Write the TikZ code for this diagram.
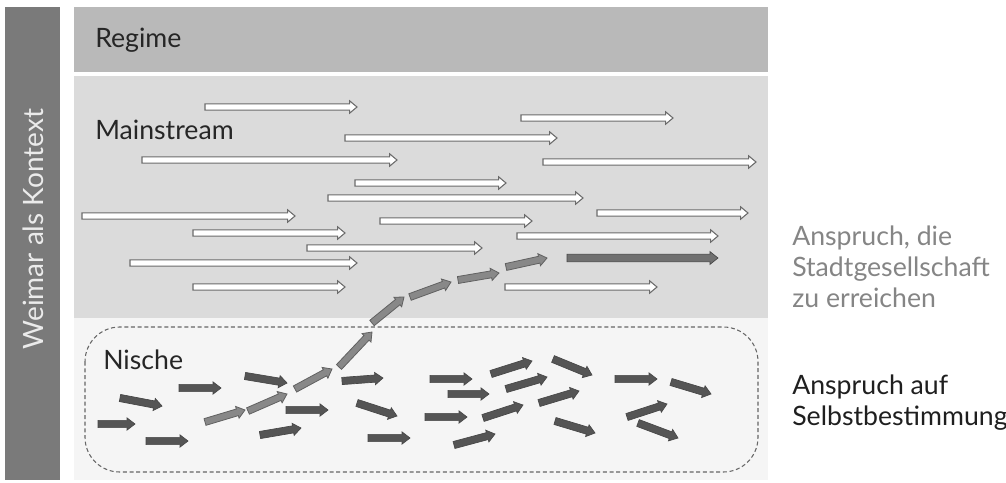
\documentclass[tikz,border=0pt]{standalone}
\usepackage{fontspec}
\setmainfont{Lato}
\usepackage{tikz}
\usetikzlibrary{calc, backgrounds, positioning}
\definecolor{kontextgray}{HTML}{7A7A7A}
\definecolor{regimegray}{HTML}{B9B9B9}
\definecolor{mainstreamgray}{HTML}{DBDBDB}
\definecolor{nischegray}{HTML}{F5F5F5}
\definecolor{arrowdark}{HTML}{555555}
\definecolor{arrowmid}{HTML}{888888}

% block arrow: style, start, end, half shaft, half head, head length
\newcommand{\blockarrow}[6]{%
  \coordinate (hb) at ($(#3)!#6!(#2)$);
  \draw[#1] ($(#2)!#4!90:(#3)$) -- ($(hb)!#4!90:(#3)$) -- ($(hb)!#5!90:(#3)$) -- (#3)
     -- ($(hb)!#5!-90:(#3)$) -- ($(hb)!#4!-90:(#3)$) -- ($(#2)!#4!-90:(#3)$) -- cycle;}

\begin{document}
\begin{tikzpicture}[x=0.75pt, y=-0.75pt, line join=miter,
    label/.style={inner sep=0pt, font=\fontsize{20pt}{23.25pt}\selectfont, text=black!85},
    hollow/.style={fill=white, draw=black!58, line width=0.8pt},
    mid/.style={fill=arrowmid, draw=black!62, line width=0.6pt},
    dark/.style={fill=arrowdark, draw=black!72, line width=0.5pt}]
  \useasboundingbox (0,0) rectangle (1006,482);
  % bands
  \fill[kontextgray] (5,7) rectangle (60,480);
  \fill[regimegray] (74,7) rectangle (768,72);
  \fill[mainstreamgray] (74,76) rectangle (768,318);
  \fill[nischegray] (74,318) rectangle (768,480);
  \node[label, text=white!92!black, rotate=90, font=\fontsize{21pt}{24pt}\selectfont] (kontext) at (33,229) {Weimar als Kontext};
  \node[label, anchor=base west] (regime) at (95,47) {Regime};
  \node[label, anchor=base west] (mainstream) at (95,139) {Mainstream};
  \node[label, anchor=base west] (nische) at (103,369) {Nische};
  % niche border
  \draw[black!60, line width=0.8pt, dash pattern=on 3pt off 2pt, rounded corners=26pt]
    (85,327) rectangle (758,472);

  % mainstream
  \foreach \xa/\xb/\y in {205/357/107, 345/557/138, 142/397/160, 355/506/183, 328/583/198,
      82/295/216, 380/532/221, 193/345/233, 307/482/248, 130/357/263, 193/345/287,
      521/673/118, 543/756/162, 597/748/213, 517/718/236, 505/657/287}
    {\blockarrow{hollow}{\xa,\y}{\xb,\y}{2.3pt}{4.6pt}{5.5pt}}
  \blockarrow{dark, fill=black!56}{567,258}{718,258}{2.8pt}{4.8pt}{6pt}

  % niche
  \foreach \xa/\ya/\xb/\yb in {98/424/135/424, 120/398/162/406, 146/441/188/441, 179/388/221/388,
      245/376/287/383, 260/435/301/428, 286/410/328/410, 342/381/383/378, 357/403/397/416,
      368/438/410/438, 430/379/472/379, 448/394/489/394, 425/417/467/417, 454/445/495/434,
      491/374/532/361, 506/389/547/377, 483/418/523/405, 553/359/592/375, 539/403/579/391,
      555/421/595/433, 615/379/657/379, 671/382/711/394, 627/417/667/404, 638/423/678/438}
    {\blockarrow{dark}{\xa,\ya}{\xb,\yb}{2.7pt}{4.6pt}{6pt}}

  % way out of the niche
  \foreach \xa/\ya/\xb/\yb in {205/422/245/410, 248/411/287/394, 295/389/332/369, 339/367/372/332,
      372/323/404/297, 410/297/451/282, 458/280/499/273, 506/267/547/258}
    {\blockarrow{mid}{\xa,\ya}{\xb,\yb}{2.6pt}{4.6pt}{6pt}}

  \node[label, text=black!48, anchor=north west, align=left] (stadt) at (792,226)
    {Anspruch, die\\Stadtgesellschaft\\zu erreichen};
  \node[label, text=black!88, anchor=north west, align=left] (selbst) at (792,375)
    {Anspruch auf\\Selbstbestimmung};
\end{tikzpicture}
\end{document}
